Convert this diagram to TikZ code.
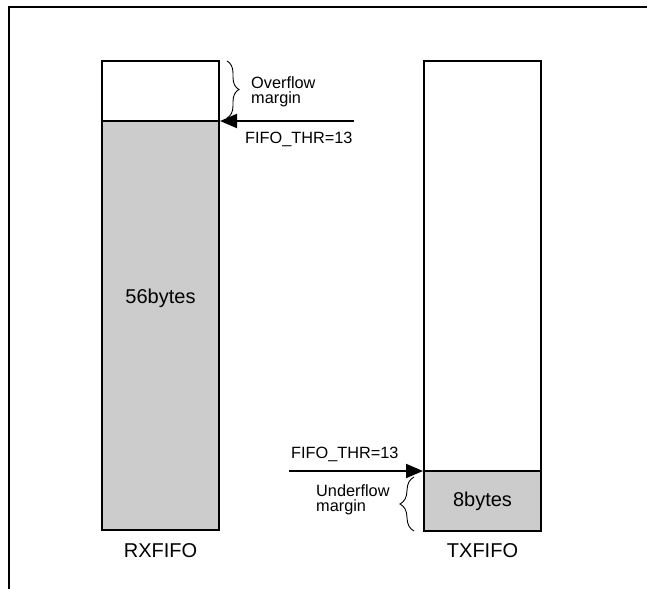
\documentclass[tikz,border=0pt]{standalone}
\usepackage{fontspec}
\setmainfont{Liberation Sans}
\usetikzlibrary{arrows.meta,decorations.pathreplacing}
\definecolor{fifogray}{gray}{0.8}
\begin{document}
\begin{tikzpicture}[x=1pt,y=-1pt,
  box/.style={draw,line width=2pt,inner sep=0pt,outer sep=0pt,anchor=north west,minimum width=117pt},
  fillbox/.style={box,fill=fifogray},
  big/.style={font=\fontsize{20}{22}\selectfont,inner sep=0pt},
  small/.style={font=\fontsize{16.3}{15.5}\selectfont,inner sep=0pt,align=left},
  thr/.style={line width=2pt,-{Triangle[length=17pt,width=14pt]},shorten >=1pt},
  margbrace/.style={line width=0.9pt,decorate,decoration={brace,amplitude=12pt}},
  frame/.style={line width=2pt}]
\useasboundingbox (0,0) rectangle (648,589);
% frame
\coordinate (ftl) at (9,7);
\coordinate (ftr) at (647,7);
\coordinate (fbl) at (9,589);
\draw[frame] (ftr) -- (ftl) -- (fbl);
% RXFIFO
\node[box,minimum height=60pt] (rxtop) at (102,61) {};
\node[fillbox,minimum height=409pt] (rxbot) at (102,121) {};
\node[big] (rxdata) at (160.5,298) {56bytes};
\node[big] (rxlab) at (160.5,551) {RXFIFO};
% TXFIFO
\node[box,minimum height=410pt] (txtop) at (424,61) {};
\node[fillbox,minimum height=60pt] (txbot) at (424,471) {};
\node[big] (txdata) at (txbot.center) {8bytes};
\node[big] (txlab) at (482.5,551) {TXFIFO};
% RX threshold
\coordinate (rxthr) at (354,121);
\draw[thr] (rxthr) -- (rxbot.north east);
\node[small,anchor=base west] (rxthrlab) at (245,143) {FIFO\_THR=13};
\coordinate (ovt) at (227,61);
\coordinate (ovb) at (227,118);
\draw[margbrace] (ovt) -- (ovb);
\node[small,anchor=base west] (ovlab) at (251,103.5) {Overflow\\margin};
% TX threshold
\coordinate (txthr) at (289,471);
\draw[thr] (txthr) -- (txbot.north west);
\node[small,anchor=base west] (txthrlab) at (291,458) {FIFO\_THR=13};
\coordinate (unt) at (414,477);
\coordinate (unb) at (414,531);
\draw[margbrace,decoration={amplitude=14pt}] (unb) -- (unt);
\node[small,anchor=base west] (unlab) at (316,511.5) {Underflow\\margin};
\end{tikzpicture}
\end{document}
